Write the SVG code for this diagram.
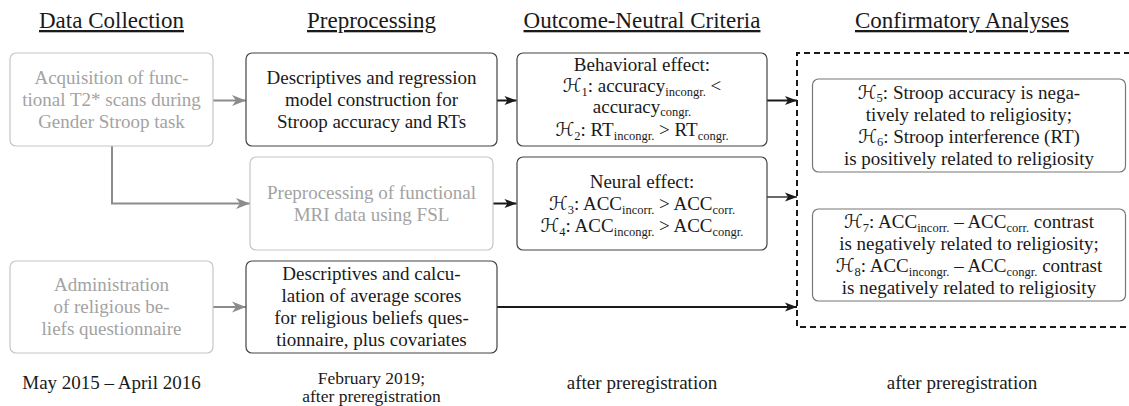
<svg xmlns="http://www.w3.org/2000/svg" width="1129" height="406" viewBox="0 0 1129 406">
<style>
text { font-family: "Liberation Serif", "DejaVu Serif", serif; font-size: 19px; fill: #1a1a1a; text-anchor: middle; }
.hd { font-size: 23px; text-decoration: underline; }
.light text { fill: #a3a3a3; }
.sub { font-size: 12.5px; }
.cal { font-family: "DejaVu Serif", "DejaVu Sans", serif; font-style: italic; }
.small { font-size: 17.5px; }
.box { fill: #ffffff; stroke: #444444; stroke-width: 1.2; }
.gbox { fill: #ffffff; stroke: #777777; stroke-width: 1.2; }
.lbox { fill: #ffffff; stroke: #c6c6c6; stroke-width: 1.2; }
.ca { fill: none; stroke: #1a1a1a; stroke-width: 2; }
.cat { fill: none; stroke: #1a1a1a; stroke-width: 1.3; }
.cg { fill: none; stroke: #8c8c8c; stroke-width: 2; }
.dash { fill: none; stroke: #1a1a1a; stroke-width: 2; stroke-dasharray: 6 4; }
</style>
<defs>
<marker id="ah" markerUnits="userSpaceOnUse" markerWidth="14" markerHeight="12" refX="13" refY="6" orient="auto">
<path d="M1,1.5 L13,6 L1,10.5 L4,6 Z" fill="#1a1a1a"/>
</marker>
<marker id="ag" markerUnits="userSpaceOnUse" markerWidth="16" markerHeight="14" refX="15" refY="7" orient="auto">
<path d="M1,1.5 L15,7 L1,12.5 L5,7 Z" fill="#8c8c8c"/>
</marker>
</defs>

<g id="headings">
<text class="hd" x="111.5" y="28">Data Collection</text>
<text class="hd" x="371.5" y="28">Preprocessing</text>
<text class="hd" x="642" y="28">Outcome-Neutral Criteria</text>
<text class="hd" x="962" y="28">Confirmatory Analyses</text>
</g>

<g id="confirmatory-frame">
<path class="dash" d="M1140,53 H797 V327 H1140"/>
</g>

<g id="connectors">
<path class="cg" d="M213,100.5 H246" marker-end="url(#ag)"/>
<path class="cg" d="M112,146 V203.5 H250" marker-end="url(#ag)"/>
<path class="cg" d="M213,307 H246" marker-end="url(#ag)"/>
<path class="ca" d="M497,100.5 H516.5" marker-end="url(#ah)"/>
<path class="ca" d="M493,203.5 H516.5" marker-end="url(#ah)"/>
<path class="ca" d="M497,307 H797" marker-end="url(#ah)"/>
<path class="ca" d="M767,100.5 H797" marker-end="url(#ah)"/>
<path class="cat" d="M767,197 H797" marker-end="url(#ah)"/>
</g>

<g id="acquisition" class="light">
<rect class="lbox" x="10" y="53" width="203" height="93" rx="6"/>
<text x="111.5" y="84">Acquisition of func-</text>
<text x="111.5" y="106">tional T2* scans during</text>
<text x="111.5" y="128">Gender Stroop task</text>
</g>

<g id="administration" class="light">
<rect class="lbox" x="10" y="261" width="203" height="92" rx="6"/>
<text x="111.5" y="291">Administration</text>
<text x="111.5" y="313">of religious be-</text>
<text x="111.5" y="335">liefs questionnaire</text>
</g>

<g id="stroop-descriptives">
<rect class="box" x="246" y="53" width="251" height="93" rx="6"/>
<text x="371.5" y="84">Descriptives and regression</text>
<text x="371.5" y="106">model construction for</text>
<text x="371.5" y="128">Stroop accuracy and RTs</text>
</g>

<g id="fmri-preprocessing" class="light">
<rect class="lbox" x="250" y="157" width="243" height="93" rx="6"/>
<text x="371.5" y="199">Preprocessing of functional</text>
<text x="371.5" y="221">MRI data using FSL</text>
</g>

<g id="questionnaire-descriptives">
<rect class="box" x="246" y="261" width="251" height="92" rx="6"/>
<text x="371.5" y="280">Descriptives and calcu-</text>
<text x="371.5" y="302">lation of average scores</text>
<text x="371.5" y="324">for religious beliefs ques-</text>
<text x="371.5" y="346">tionnaire, plus covariates</text>
</g>

<g id="behavioral-effect">
<rect class="box" x="517" y="53" width="250" height="93" rx="6"/>
<text x="642" y="71">Behavioral effect:</text>
<text x="642" y="92"><tspan class="cal">ℋ</tspan><tspan class="sub" dy="3.5">1</tspan><tspan dy="-3.5">: accuracy</tspan><tspan class="sub" dy="3.5">incongr.</tspan><tspan dy="-3.5"> &lt;</tspan></text>
<text x="642" y="112.5">accuracy<tspan class="sub" dy="3">congr.</tspan></text>
<text x="642" y="136"><tspan class="cal">ℋ</tspan><tspan class="sub" dy="3.5">2</tspan><tspan dy="-3.5">: RT</tspan><tspan class="sub" dy="3.5">incongr.</tspan><tspan dy="-3.5"> &gt; RT</tspan><tspan class="sub" dy="3.5">congr.</tspan></text>
</g>

<g id="neural-effect">
<rect class="box" x="517" y="157" width="250" height="93" rx="6"/>
<text x="642" y="188">Neural effect:</text>
<text x="642" y="210"><tspan class="cal">ℋ</tspan><tspan class="sub" dy="3.5">3</tspan><tspan dy="-3.5">: ACC</tspan><tspan class="sub" dy="3.5">incorr.</tspan><tspan dy="-3.5"> &gt; ACC</tspan><tspan class="sub" dy="3.5">corr.</tspan></text>
<text x="642" y="232"><tspan class="cal">ℋ</tspan><tspan class="sub" dy="3.5">4</tspan><tspan dy="-3.5">: ACC</tspan><tspan class="sub" dy="3.5">incongr.</tspan><tspan dy="-3.5"> &gt; ACC</tspan><tspan class="sub" dy="3.5">congr.</tspan></text>
</g>

<g id="h5-h6">
<rect class="gbox" x="812.5" y="79" width="313" height="93" rx="6"/>
<text x="969" y="98.5"><tspan class="cal">ℋ</tspan><tspan class="sub" dy="3.5">5</tspan><tspan dy="-3.5">: Stroop accuracy is nega-</tspan></text>
<text x="969" y="120.5">tively related to religiosity;</text>
<text x="969" y="142.5"><tspan class="cal">ℋ</tspan><tspan class="sub" dy="3.5">6</tspan><tspan dy="-3.5">: Stroop interference (RT)</tspan></text>
<text x="969" y="164.5">is positively related to religiosity</text>
</g>

<g id="h7-h8">
<rect class="gbox" x="812.5" y="209" width="313" height="92" rx="6"/>
<text x="969" y="228"><tspan class="cal">ℋ</tspan><tspan class="sub" dy="3.5">7</tspan><tspan dy="-3.5">: ACC</tspan><tspan class="sub" dy="3.5">incorr.</tspan><tspan dy="-3.5"> – ACC</tspan><tspan class="sub" dy="3.5">corr.</tspan><tspan dy="-3.5"> contrast</tspan></text>
<text x="969" y="250">is negatively related to religiosity;</text>
<text x="969" y="272"><tspan class="cal">ℋ</tspan><tspan class="sub" dy="3.5">8</tspan><tspan dy="-3.5">: ACC</tspan><tspan class="sub" dy="3.5">incongr.</tspan><tspan dy="-3.5"> – ACC</tspan><tspan class="sub" dy="3.5">congr.</tspan><tspan dy="-3.5"> contrast</tspan></text>
<text x="969" y="294">is negatively related to religiosity</text>
</g>

<g id="timeline">
<text x="111.5" y="389">May 2015 – April 2016</text>
<text class="small" x="371.5" y="384">February 2019;</text>
<text class="small" x="371.5" y="402">after preregistration</text>
<text x="642" y="389">after preregistration</text>
<text x="962" y="389">after preregistration</text>
</g>
</svg>
